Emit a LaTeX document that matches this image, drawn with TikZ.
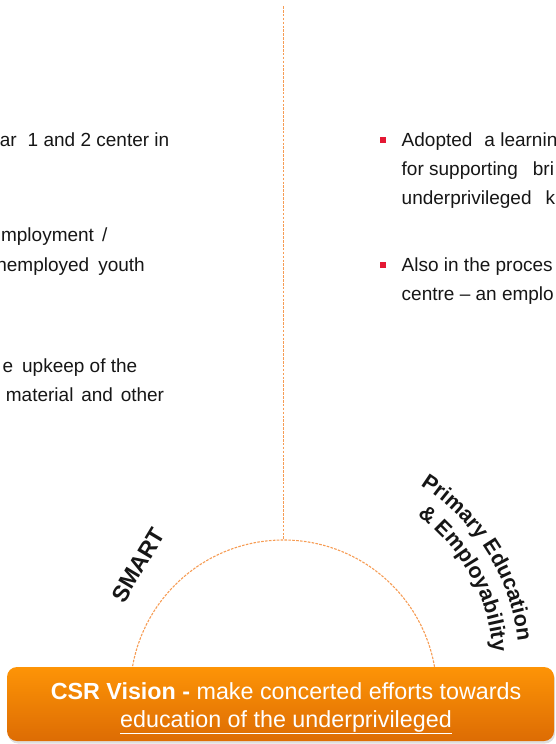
\documentclass[tikz,border=0pt]{standalone}
\usepackage{fontspec}
\setmainfont{Liberation Sans}
\usetikzlibrary{decorations.text,shadows}

\definecolor{ink}{RGB}{22,22,22}
\definecolor{guide}{RGB}{246,156,84}
\definecolor{bulletred}{RGB}{228,24,52}
\definecolor{bandtop}{RGB}{253,148,6}
\definecolor{bandbottom}{RGB}{221,108,4}

\newcommand\arclabelfont{\bfseries\fontsize{21.5}{25}\selectfont\color{ink}}

\begin{document}
\begin{tikzpicture}[x=1pt,y=1pt,
  body/.style={font=\fontsize{19}{23}\selectfont, text=ink, inner sep=0pt},
  guideline/.style={draw=guide, line width=1.1pt, dash pattern=on 2.6pt off 1.3pt},
  bulletsq/.style={fill=bulletred, minimum size=6pt, inner sep=0pt},
  pillar/.style={font=\bfseries\fontsize{23}{26}\selectfont, text=ink, inner sep=0pt},
  band/.style={rounded corners=10pt, top color=bandtop, bottom color=bandbottom,
    draw=none, minimum width=547pt, minimum height=74pt,
    drop shadow={opacity=0.25, shadow xshift=1pt, shadow yshift=-2.5pt}},
  bandtext/.style={text=white, font=\fontsize{23.3}{28}\selectfont, inner sep=0pt}]

\useasboundingbox (0,0) rectangle (555,-744);
\clip (0,0) rectangle (555,-744);

% left column (continues beyond the left edge)
\node[body, anchor=base east] (l1) at (169.5,-146) {ar\hspace{11pt}1 and 2 center in};
\node[body, anchor=base east] (l2) at (107.5,-241.7) {mployment\hspace{8pt}/};
\node[body, anchor=base east] (l3) at (145,-271) {nemployed\hspace{9pt}youth};
\node[body, anchor=base east] (l4) at (137.5,-372.3) {e\hspace{9pt}upkeep of the};
\node[body, anchor=base east] (l5) at (164.3,-401.7) {material\hspace{7.8pt}and\hspace{7.8pt}other};

% right column (continues beyond the right edge)
\node[bulletsq] (b1) at (383,-140) {};
\node[body, anchor=base west] (r1) at (401.5,-146.5) {Adopted\hspace{12pt}a learnin};
\node[body, anchor=base west] (r2) at (401.5,-175.7) {for supporting\hspace{15pt}bri};
\node[body, anchor=base west] (r3) at (401.5,-204.3) {underprivileged\hspace{14pt}k};
\node[bulletsq] (b2) at (383,-265) {};
\node[body, anchor=base west] (r4) at (401.5,-271.5) {Also in the proces};
\node[body, anchor=base west] (r5) at (401.5,-300.7) {centre -- an emplo};

% divider and half circle
\coordinate (divtop) at (283.5,-6);
\coordinate (arctop) at (283.5,-540);
\draw[guideline, line width=1.6pt] (divtop) -- (arctop);
\draw[guideline] (130.2,-693.3) arc[start angle=180, end angle=0, radius=153.3];

% pillar labels
\node[pillar, rotate=59] (smart) at (138.3,-565) {SMART};
\path[decorate, decoration={text along path, text align=left,
    text={|\arclabelfont|Primary Education}}]
  (309,-664) ++(58:210) arc[start angle=58, end angle=-2, radius=210];
\path[decorate, decoration={text along path, text align=left,
    text={|\arclabelfont|{\&} Employability}}]
  (309,-664) ++(54:184) arc[start angle=54, end angle=-6, radius=184];

% vision band
\node[band] (vision) at (280.5,-704) {};
\node[bandtext, anchor=base] (v1) at (286,-699.3)
  {\textbf{CSR Vision -} make concerted efforts towards};
\node[bandtext, anchor=base] (v2) at (286,-727.3)
  {\underline{education of the underprivileged}};
\end{tikzpicture}
\end{document}
